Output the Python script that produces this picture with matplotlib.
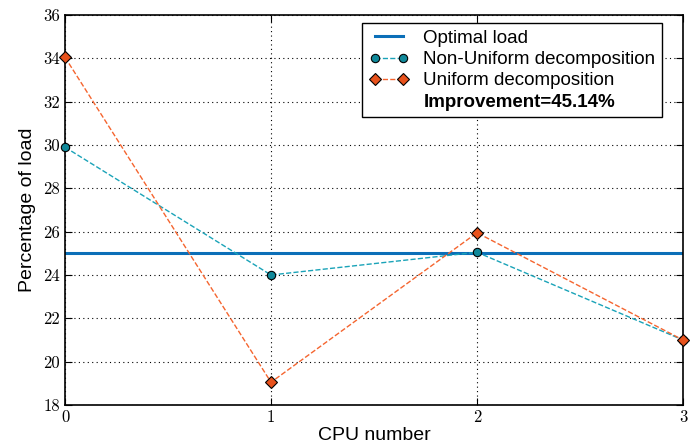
import matplotlib
matplotlib.use("Agg")
import matplotlib.pyplot as plt

# load per CPU, in percent
cpus = [0, 1, 2, 3]
optimal_load = 25.0
non_uniform = [29.9, 24.0, 25.05, 21.0]
uniform = [34.05, 19.05, 25.95, 21.0]
improvement = "Improvement=45.14%"

plt.rcParams['font.family'] = ['Liberation Sans', 'DejaVu Sans']

fig = plt.figure(figsize=(6.9, 4.44), dpi=100)
ax = fig.add_axes([65 / 690, 39 / 444, 618 / 690, 390 / 444])

ax.axhline(optimal_load, color='#0b6fb8', lw=2.2, label='Optimal load')
ax.plot(cpus, non_uniform, '--o', color='#1aa3b8', lw=1.0, ms=6,
        markerfacecolor='#10899a', markeredgecolor='black', mew=0.8,
        label='Non-Uniform decomposition', clip_on=False, zorder=4)
ax.plot(cpus, uniform, '--D', color='#f5652f', lw=1.0, ms=6,
        markerfacecolor='#e8521c', markeredgecolor='black', mew=0.8,
        label='Uniform decomposition', clip_on=False, zorder=4)
ax.plot([], [], ' ', label=improvement)

ax.set_xlim(0, 3)
ax.set_ylim(18, 36)
ax.set_xticks(cpus)
ax.set_yticks(range(18, 37, 2))
ax.grid(True, color='black', linestyle=(0, (1, 3)), lw=0.8)
ax.tick_params(direction='in', top=True, right=True, length=5, labelsize=12)
for lab in ax.get_xticklabels() + ax.get_yticklabels():
    lab.set_fontfamily('cmr10')
for s in ax.spines.values():
    s.set_linewidth(1.2)

ax.set_xlabel('CPU number', fontsize=14, labelpad=1)
ax.set_ylabel('Percentage of load', fontsize=14, labelpad=5)

leg = ax.legend(loc='upper right', bbox_to_anchor=(0.966, 0.979),
                borderaxespad=0, fontsize=13.5, fancybox=False, framealpha=1,
                edgecolor='black', numpoints=2, handlelength=2.1,
                handletextpad=0.8, labelspacing=0.22, borderpad=0.35)
leg.get_frame().set_linewidth(1.0)
leg.get_texts()[-1].set_fontweight('bold')

fig.savefig('out.png', dpi=100)
